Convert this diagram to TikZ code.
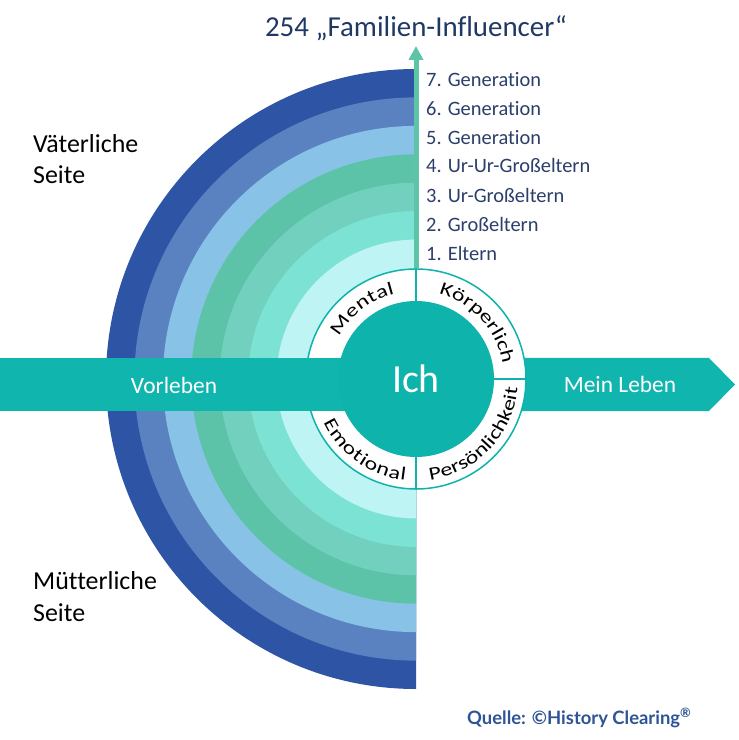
\documentclass[tikz,border=0pt]{standalone}
\usepackage{fontspec}
\setmainfont{Carlito}[Ligatures=NoCommon]
\newfontfamily\quellefont{Lato}
\newfontfamily\bogenfont{Carlito}[FakeStretch=1.3,Ligatures=NoCommon]
\usetikzlibrary{calc,positioning,arrows.meta,decorations.text}
\definecolor{gensieben}{HTML}{2E54A5}
\definecolor{gensechs}{HTML}{5A82C1}
\definecolor{genfuenf}{HTML}{88C3E7}
\definecolor{genvier}{HTML}{5DC3A8}
\definecolor{gendrei}{HTML}{72D0BF}
\definecolor{genzwei}{HTML}{7CE3D4}
\definecolor{geneins}{HTML}{BEF4F4}
\definecolor{bandteal}{HTML}{10B5AD}
\definecolor{ichteal}{HTML}{0EB3AB}
\definecolor{pfeilgruen}{HTML}{5DC4A7}
\definecolor{titelblau}{HTML}{203864}
\definecolor{gentext}{HTML}{2C3F6B}
\definecolor{quelleblau}{HTML}{2F5496}
\begin{document}
\begin{tikzpicture}[x=1bp,y=1bp]
\tikzstyle{genlabel}=[anchor=base west, inner sep=0pt, text=gentext, font=\fontsize{20.5}{24}\selectfont]
\tikzstyle{seite}=[anchor=base west, inner sep=0pt, align=left, font=\fontsize{26}{32}\selectfont]
\tikzstyle{bandtext}=[anchor=base, inner sep=0pt, text=white, font=\fontsize{23.5}{28}\selectfont]
\tikzstyle{curved}=[decorate, decoration={text along path, text align=fit to path}]
\newcommand{\curvefont}{\bogenfont\fontsize{18.5}{18.5}\selectfont}

\fill[white] (-416,-361) rectangle (323,379);
\useasboundingbox (-416,-361) rectangle (323,379);
\foreach \r/\c in {310/gensieben,281.6/gensechs,253.1/genfuenf,224.7/genvier,196.3/gendrei,167.9/genzwei,139.4/geneins}{\fill[\c] (0,\r) arc[start angle=90,end angle=270,radius=\r] -- cycle;}
\fill[bandteal] (0,-32) -- (293,-32) -- (319,-5.5) -- (293,21) -- (0,21) -- cycle;
\node[circle, draw=ichteal, line width=1.5bp, fill=white, minimum size=220bp, inner sep=0pt] (ring) at (0,0) {};
\draw[ichteal, line width=1.5bp] (ring.south) -- (ring.north) (0,0) -- (ring.east);
\fill[bandteal] (-416,-32) rectangle (0,21);
\node[circle, fill=ichteal, minimum size=156bp, inner sep=0pt, text=white, font=\fontsize{40}{40}\selectfont] (ich) at (0,0) {Ich};

\path[curved, decoration={text={|\curvefont|Mental}}] (151:88) arc[start angle=151,end angle=104,radius=88];
\path[curved, decoration={text={|\curvefont|Körperlich}}] (75:88) arc[start angle=75,end angle=12,radius=88];
\path[curved, decoration={text={|\curvefont|Emotional}}] (205:102) arc[start angle=205,end angle=264,radius=102];
\path[curved, decoration={text={|\curvefont|Persönlichkeit}}] (278:102) arc[start angle=278,end angle=355,radius=102];

\node[bandtext] (vorleben) at (-242,-14) {Vorleben};
\node[bandtext] (meinleben) at (204,-13) {Mein Leben};

\node[anchor=base, inner sep=0pt, text=titelblau, font=\fontsize{29}{32}\selectfont] (title) at (0,342) {254 „Familien-Influencer“};
\coordinate (tip) at (0,333);
\draw[pfeilgruen, line width=5bp, -{Triangle[width=14bp,length=14bp]}] (ring.north) -- (tip);

\node[genlabel] (g7) at (10,292) {7. Generation};
\node[genlabel] (g6) at (10,263) {6. Generation};
\node[genlabel] (g5) at (10,234) {5. Generation};
\node[genlabel] (g4) at (10,206) {4. Ur-Ur-Großeltern};
\node[genlabel] (g3) at (10,176) {3. Ur-Großeltern};
\node[genlabel] (g2) at (10,147) {2. Großeltern};
\node[genlabel] (g1) at (10,118) {1. Eltern};

\node[seite] (vater) at (-383,195) {Väterliche\\Seite};
\node[seite] (mutter) at (-383,-242) {Mütterliche\\Seite};

\node[anchor=base west, inner sep=0pt, text=quelleblau, font=\quellefont\bfseries\fontsize{18.5}{20}\selectfont] (quelle) at (51,-345) {Quelle: ©History Clearing\textsuperscript{®}};
\end{tikzpicture}
\end{document}
